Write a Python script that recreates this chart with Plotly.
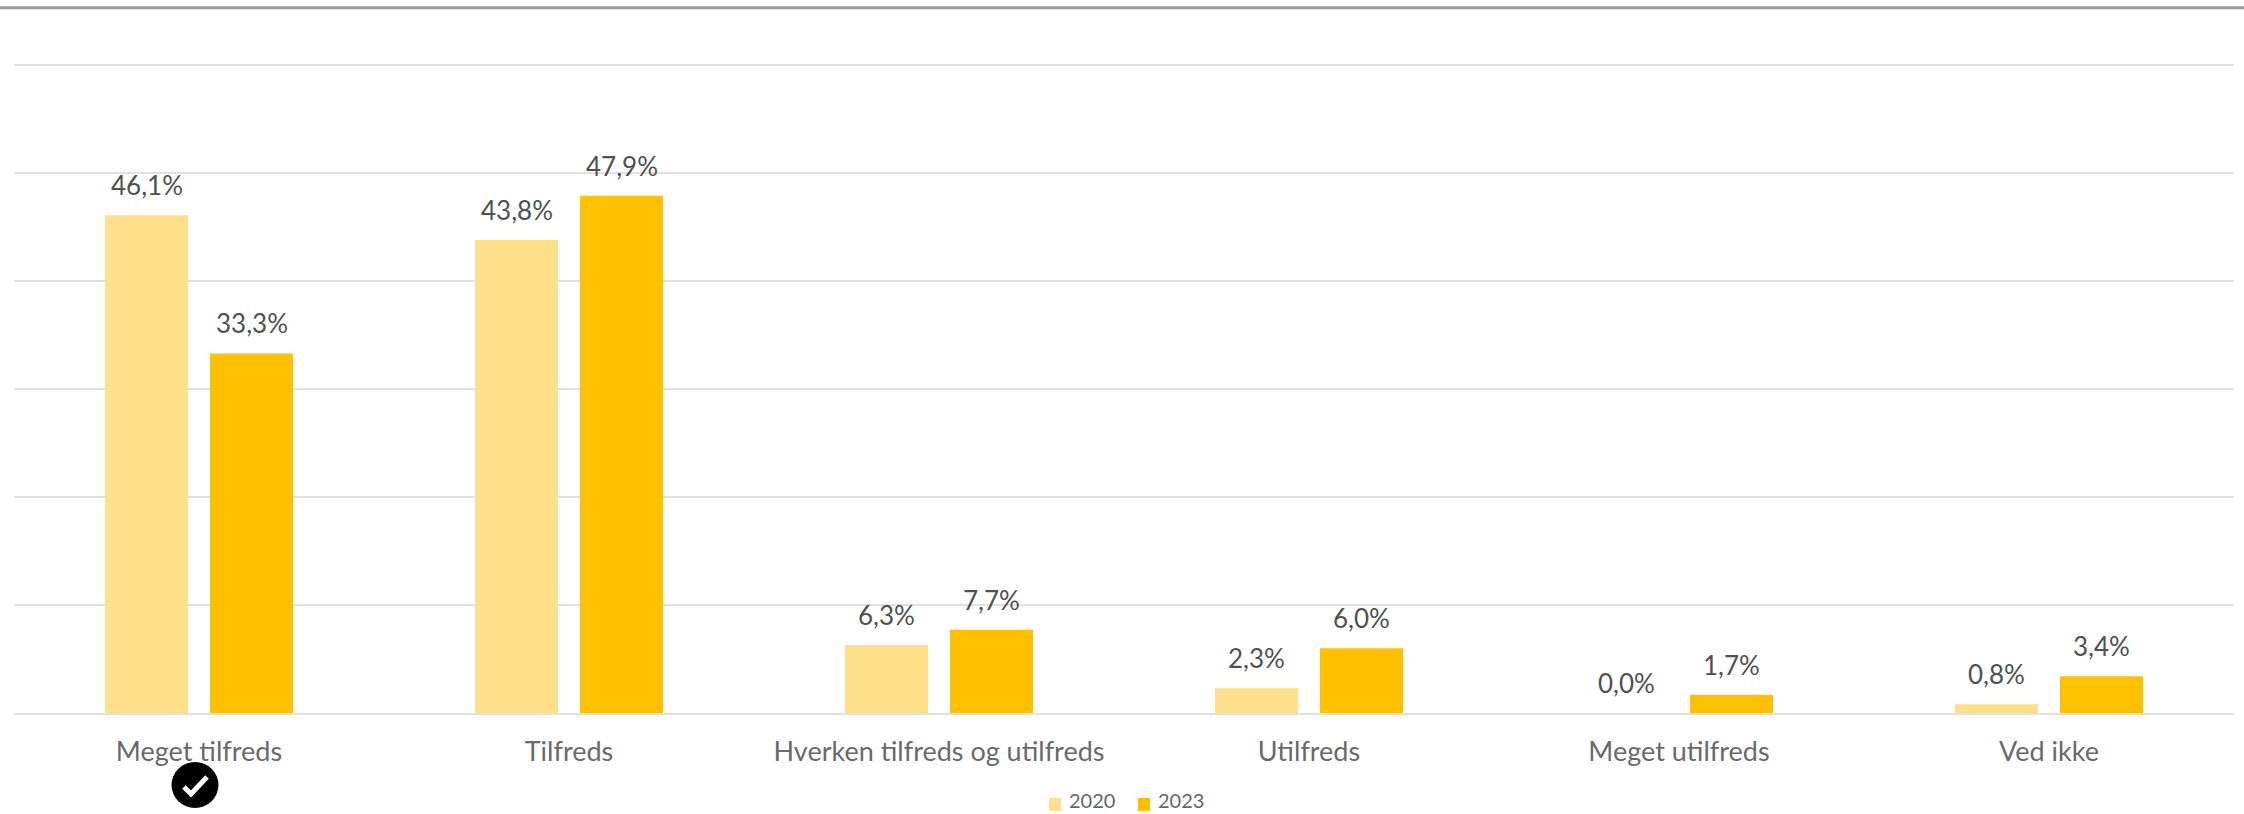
import plotly.graph_objects as go

categories = ["Meget tilfreds", "Tilfreds", "Hverken tilfreds og utilfreds", "Utilfreds", "Meget utilfreds", "Ved ikke"]
values_2020 = [46.1, 43.8, 6.3, 2.3, 0.0, 0.8]
values_2023 = [33.3, 47.9, 7.7, 6.0, 1.7, 3.4]
series_names = ["2020", "2023"]
series_colors = ["#FEE08A", "#FFC000"]
FONT = "Lato, Carlito, Calibri, sans-serif"
W, H = 2244, 814
TOP, BOTTOM = 62.8, 713

def label(v):
    return f"{v:.1f}%".replace(".", ",")

def px(x, y):
    return (x - 14) / 2220, (BOTTOM - y) / (BOTTOM - TOP)

fig = go.Figure()
fig.add_bar(name=series_names[0], x=categories, y=values_2020, marker_color=series_colors[0], marker_line_width=0)
fig.add_bar(name=series_names[1], x=categories, y=values_2023, marker_color=series_colors[1], marker_line_width=0)

annotations = []
for i in range(len(categories)):
    for v, dx in ((values_2020[i], -52.5 / 370), (values_2023[i], 52.5 / 370)):
        annotations.append(dict(x=i + dx, y=v, xref="x", yref="y", text=label(v), showarrow=False,
                                yshift=30, yanchor="middle", xanchor="center",
                                font=dict(family=FONT, size=26, color="#505050")))

x0, y0 = px(0, 9)
x1, y1 = px(W, 6)
shapes = [dict(type="rect", xref="paper", yref="paper", x0=x0, x1=x1, y0=y0, y1=y1,
               fillcolor="#999999", line_width=0, layer="above")]
cx0, cy0 = px(171.5, 762)
cx1, cy1 = px(218.5, 808)
shapes.append(dict(type="circle", xref="paper", yref="paper", x0=cx0, x1=cx1, y0=cy0, y1=cy1,
                   fillcolor="#000000", line_width=0, layer="above"))
p = [px(184, 787), px(191, 794), px(207, 777)]
shapes.append(dict(type="path", xref="paper", yref="paper",
                   path=f"M{p[0][0]},{p[0][1]} L{p[1][0]},{p[1][1]} L{p[2][0]},{p[2][1]}",
                   line=dict(color="#FFFFFF", width=5), layer="above"))

# Compact legend: the built-in one's box does not fit the space under the axis labels
for name, color, left in zip(series_names, series_colors, (1049, 1138)):
    a0, b0 = px(left, 798)
    a1, b1 = px(left + 12, 811)
    shapes.append(dict(type="rect", xref="paper", yref="paper", x0=a0, x1=a1, y0=b0, y1=b1,
                       fillcolor=color, line_width=0, layer="above"))
    tx, ty = px(left + 19, 800.5)
    annotations.append(dict(x=tx, y=ty, xref="paper", yref="paper", text=name, showarrow=False,
                            xanchor="left", yanchor="middle", xshift=-1,
                            font=dict(family=FONT, size=20, color="#666666")))

fig.update_layout(
    width=W, height=H, autosize=False, showlegend=False,
    margin=dict(l=14, r=10, t=TOP, b=H - BOTTOM, pad=0),
    paper_bgcolor="white", plot_bgcolor="white",
    barmode="group", bargap=0.4324, bargroupgap=0.2095,
    annotations=annotations, shapes=shapes,
    font=dict(family=FONT, color="#666666"),
    xaxis=dict(type="category", tickfont=dict(family=FONT, size=27, color="#6a6a6a"), ticks="",
               showline=True, linecolor="#E0E0E0", linewidth=2, showgrid=False,
               ticklabelstandoff=14),
    yaxis=dict(range=[0, 60.2], dtick=10, showticklabels=False, showgrid=True, gridcolor="#E0E0E0", gridwidth=2,
               zeroline=False, showline=False, ticks=""),
)
fig.write_html("out.html", config={"displayModeBar": False}, post_script="document.body.style.margin='0';")
